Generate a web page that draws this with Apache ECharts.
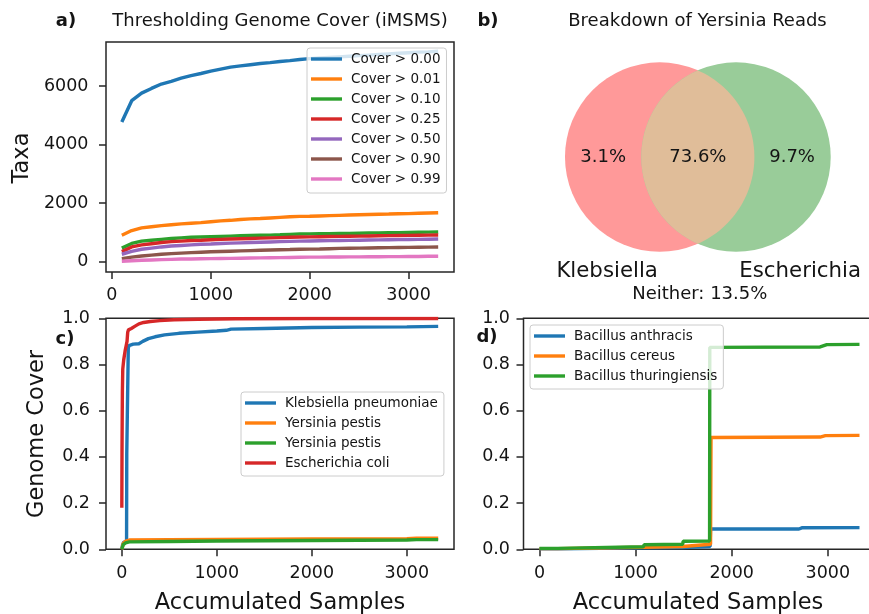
<!DOCTYPE html>
<html><head><meta charset="utf-8">
<script src="https://cdn.jsdelivr.net/npm/echarts@6/dist/echarts.min.js"></script>
<style>html,body{margin:0;padding:0;background:#fff}#c{width:869px;height:614px}</style>
</head><body><div id="c"></div>
<script>
const FONT = 'DejaVu Sans';
const INK = '#141414';
const TAB = ['#1f77b4','#ff7f0e','#2ca02c','#d62728','#9467bd','#8c564b','#e377c2'];
const LW = 3.4;

// ---------- panel a ----------
const samplesA = [100,200,300,400,500,600,700,800,900,1000,1100,1200,1300,1400,1500,1600,1700,1800,1900,2000,2100,2200,2300,2400,2500,2600,2700,2800,2900,3000,3100,3200,3300];
const coverLabels = ['Cover > 0.00','Cover > 0.01','Cover > 0.10','Cover > 0.25','Cover > 0.50','Cover > 0.90','Cover > 0.99'];
const cover000 = [4770,5500,5760,5920,6070,6160,6270,6360,6430,6510,6580,6650,6690,6730,6770,6800,6840,6870,6910,6940,6960,6980,7000,7020,7040,7060,7080,7100,7120,7140,7160,7170,7190];
const cover001 = [900,1060,1150,1190,1230,1260,1290,1310,1330,1360,1390,1410,1440,1460,1470,1490,1510,1530,1545,1550,1560,1570,1580,1590,1600,1610,1620,1625,1635,1640,1650,1660,1670];
const cover010 = [460,620,700,730,760,790,810,830,840,850,860,870,880,890,900,905,915,930,940,945,950,955,960,965,970,975,980,985,990,995,1000,1005,1010];
const cover025 = [340,500,570,610,650,680,700,720,730,745,760,770,780,790,800,810,820,830,840,845,850,855,860,865,870,875,880,885,890,895,900,905,910];
const cover050 = [250,350,420,460,500,530,550,570,590,600,615,630,640,650,660,670,680,690,700,705,710,715,720,725,730,735,740,745,750,755,760,765,770];
const cover090 = [100,150,190,220,250,270,290,305,320,335,345,355,365,375,385,395,405,410,420,425,430,440,450,455,460,465,470,475,480,485,490,495,500];
const cover099 = [10,30,45,55,65,75,85,90,95,100,105,110,115,120,125,130,135,140,145,150,150,155,155,160,160,165,165,170,170,175,175,180,180];
const coverSeries = [cover000,cover001,cover010,cover025,cover050,cover090,cover099];
const ticksA_x = [0,1000,2000,3000];
const ticksA_y = [0,2000,4000,6000];

// ---------- panel b ----------
const vennSetLabels = ['Klebsiella','Escherichia'];
const vennSubsetLabels = ['3.1%','73.6%','9.7%'];
const vennNeither = 'Neither: 13.5%';

// ---------- panel c ----------
const namesC = ['Klebsiella pneumoniae','Yersinia pestis','Yersinia pestis ','Escherichia coli'];
const klebsiellaC = [[0,0],[8,0.02],[20,0.03],[50,0.035],[52,0.41],[65,0.415],[68,0.87],[75,0.882],[120,0.888],[180,0.89],[220,0.9],[280,0.912],[350,0.92],[450,0.928],[600,0.935],[800,0.94],[1000,0.945],[1100,0.948],[1150,0.953],[1500,0.956],[2000,0.96],[2500,0.962],[3000,0.963],[3330,0.965]];
const yersiniaC1 = [[0,0],[15,0.025],[40,0.035],[80,0.04],[500,0.042],[1000,0.043],[2000,0.045],[3000,0.046],[3100,0.048],[3330,0.048]];
const yersiniaC2 = [[0,0],[15,0.02],[40,0.028],[80,0.032],[500,0.034],[1000,0.036],[2000,0.038],[3000,0.04],[3100,0.042],[3330,0.042]];
const ecoliC = [[0,0.18],[2,0.42],[4,0.56],[6,0.68],[10,0.78],[20,0.82],[35,0.86],[45,0.88],[55,0.9],[62,0.94],[70,0.95],[100,0.956],[140,0.966],[180,0.976],[230,0.982],[300,0.986],[400,0.99],[550,0.994],[800,0.996],[1200,0.998],[2000,0.999],[3330,0.999]];

// ---------- panel d ----------
const namesD = ['Bacillus anthracis','Bacillus cereus','Bacillus thuringiensis'];
const anthracisD = [[0,0.002],[190,0.002],[195,0.007],[1080,0.007],[1090,0.008],[1490,0.008],[1495,0.01],[1775,0.012],[1780,0.088],[2700,0.088],[2730,0.093],[3330,0.094]];
const cereusD = [[0,0.003],[190,0.003],[195,0.009],[1080,0.009],[1090,0.012],[1490,0.012],[1495,0.02],[1780,0.022],[1785,0.484],[2920,0.486],[2975,0.492],[3330,0.493]];
const thuringiensisD = [[0,0.004],[190,0.004],[195,0.011],[1080,0.011],[1090,0.02],[1490,0.022],[1495,0.035],[1770,0.036],[1772,0.874],[2920,0.876],[2990,0.886],[3330,0.887]];
const ticksCD_x = [0,1000,2000,3000];
const ticksCD_y = [0,0.2,0.4,0.6,0.8,1.0];

const chart = echarts.init(document.getElementById('c'), null, {renderer:'canvas'});

function valAxis(grid, min, max, ticks, pos, margin, fmt) {
  return {
    type:'value', gridIndex:grid, min:min, max:max, position:pos,
    splitLine:{show:false},
    axisLine:{show:false, onZero:false},
    axisTick:{show:true, length:7, customValues:ticks, lineStyle:{color:'#262626', width:1.5}},
    axisLabel:{show:true, customValues:ticks, margin:margin, color:INK, fontFamily:FONT, fontSize:17.5,
      formatter: fmt || (v => String(v))}
  };
}
const fmt1 = v => v.toFixed(1);
const gridStyle = {show:true, borderColor:'#262626', borderWidth:1.5, backgroundColor:'transparent', containLabel:false, outerBoundsMode:'none'};

const legendBase = {
  orient:'vertical', icon:'rect', itemWidth:31, itemHeight:3.4, itemGap:4,
  backgroundColor:'rgba(255,255,255,0.8)', borderColor:'#cccccc', borderWidth:1, borderRadius:3,
  textStyle:{fontFamily:FONT, fontSize:13.5, color:INK, lineHeight:16, padding:[0,0,0,4]},
  formatter: n => n.trim(), selectedMode:false
};

const series = [];
coverSeries.forEach((arr, i) => {
  series.push({name:coverLabels[i], type:'line', xAxisIndex:0, yAxisIndex:0, symbol:'none', silent:true,
    lineStyle:{width:LW, color:TAB[i]}, itemStyle:{color:TAB[i]},
    data: samplesA.map((x, k) => [x, arr[k]])});
});
[[klebsiellaC,0],[yersiniaC1,1],[yersiniaC2,2],[ecoliC,3]].forEach(([arr,ci], i) => {
  series.push({name:namesC[i], type:'line', xAxisIndex:2, yAxisIndex:2, symbol:'none', silent:true,
    lineStyle:{width:LW, color:TAB[ci]}, itemStyle:{color:TAB[ci]}, data:arr});
});
[anthracisD, cereusD, thuringiensisD].forEach((arr, i) => {
  series.push({name:namesD[i], type:'line', xAxisIndex:3, yAxisIndex:3, symbol:'none', silent:true,
    lineStyle:{width:LW, color:TAB[i]}, itemStyle:{color:TAB[i]}, data:arr});
});

// Venn diagram (panel b) drawn via custom series on hidden axes (units of circle radius)
const VENN_D = 0.403;
series.push({
  type:'custom', xAxisIndex:1, yAxisIndex:1, silent:true, clip:false,
  data:[[0,0]],
  renderItem: function(params, api) {
    const c1 = api.coord([-VENN_D, 0]);
    const c2 = api.coord([VENN_D, 0]);
    const r = api.size([1, 1])[0];
    const a = (c2[0] - c1[0]) / 2;
    const h = Math.sqrt(r*r - a*a);
    const t0 = Math.atan2(h, a);
    const pts = [];
    const N = 60;
    for (let k = 0; k <= N; k++) {
      const t = -t0 + 2*t0*k/N;
      pts.push([c1[0] + r*Math.cos(t), c1[1] + r*Math.sin(t)]);
    }
    for (let k = 0; k <= N; k++) {
      const t = Math.PI - t0 + 2*t0*k/N;
      pts.push([c2[0] + r*Math.cos(t), c2[1] + r*Math.sin(t)]);
    }
    const txt = (pos, s, size) => {
      const p = api.coord(pos);
      return {type:'text', x:p[0], y:p[1], style:{text:s, fill:INK, font: size + 'px "' + FONT + '"', align:'center', verticalAlign:'middle'}};
    };
    return {type:'group', children:[
      {type:'circle', shape:{cx:c1[0], cy:c1[1], r:r}, style:{fill:'#ff9999'}},
      {type:'circle', shape:{cx:c2[0], cy:c2[1], r:r}, style:{fill:'#99cc99'}},
      {type:'polygon', shape:{points:pts}, style:{fill:'#e0bd99'}},
      txt([-1.0, 0], vennSubsetLabels[0], 18),
      txt([0.0, 0], vennSubsetLabels[1], 18),
      txt([0.995, 0], vennSubsetLabels[2], 18),
      txt([-0.958, -1.203], vennSetLabels[0], 21.3),
      txt([1.08, -1.203], vennSetLabels[1], 21.3),
      txt([0.02, -1.445], vennNeither, 18)
    ]};
  }
});

const gText = (x, y, s, size, opts) => Object.assign({
  type:'text', x:x, y:y, silent:true,
  style:{text:s, fill:INK, font:(opts && opts.bold ? 'bold ' : '') + size + 'px "' + FONT + '"', textAlign:'center', textVerticalAlign:'middle'}
}, opts && opts.rot ? {rotation:opts.rot} : {});

const option = {
  animation:false,
  backgroundColor:'#ffffff',
  grid:[
    Object.assign({left:106, top:42, width:348, height:230}, gridStyle),
    {left:508.45, top:15, width:378.8, height:284.1, show:false, containLabel:false, outerBoundsMode:'none'},
    Object.assign({left:106, top:318.3, width:348, height:231}, gridStyle),
    Object.assign({left:523.5, top:318.3, width:352, height:231}, gridStyle)
  ],
  xAxis:[
    valAxis(0, -60, 3460, ticksA_x, 'bottom', 14),
    {type:'value', gridIndex:1, min:-2, max:2, show:false},
    valAxis(2, -166.5, 3496.5, ticksCD_x, 'bottom', 15),
    valAxis(3, -166.5, 3496.5, ticksCD_x, 'bottom', 15)
  ],
  yAxis:[
    valAxis(0, -357, 7507, ticksA_y, 'left', 17.5),
    {type:'value', gridIndex:1, min:-1.5, max:1.5, show:false},
    valAxis(2, 0, 1, ticksCD_y, 'left', 16, fmt1),
    valAxis(3, 0, 1, ticksCD_y, 'left', 13.5, fmt1)
  ],
  legend:[
    Object.assign({}, legendBase, {left:307, top:48, padding:[3,6,6,4], data:coverLabels}),
    Object.assign({}, legendBase, {left:241, top:392, padding:[3,6,5,4], data:namesC}),
    Object.assign({}, legendBase, {left:530, top:325, padding:[3,6,5,4], data:namesD})
  ],
  series:series,
  graphic:[
    gText(66, 21.5, 'a)', 18, {bold:true}),
    gText(280, 21.5, 'Thresholding Genome Cover (iMSMS)', 18),
    gText(488, 21.5, 'b)', 18, {bold:true}),
    gText(697.5, 21.5, 'Breakdown of Yersinia Reads', 18),
    gText(65, 339.3, 'c)', 18, {bold:true}),
    gText(487, 337.3, 'd)', 18, {bold:true}),
    gText(22, 158, 'Taxa', 22.5, {rot:Math.PI/2}),
    gText(37.5, 434, 'Genome Cover', 22.5, {rot:Math.PI/2}),
    gText(280, 603, 'Accumulated Samples', 22.5),
    gText(698, 603, 'Accumulated Samples', 22.5)
  ]
};
chart.setOption(option);
</script></body></html>
